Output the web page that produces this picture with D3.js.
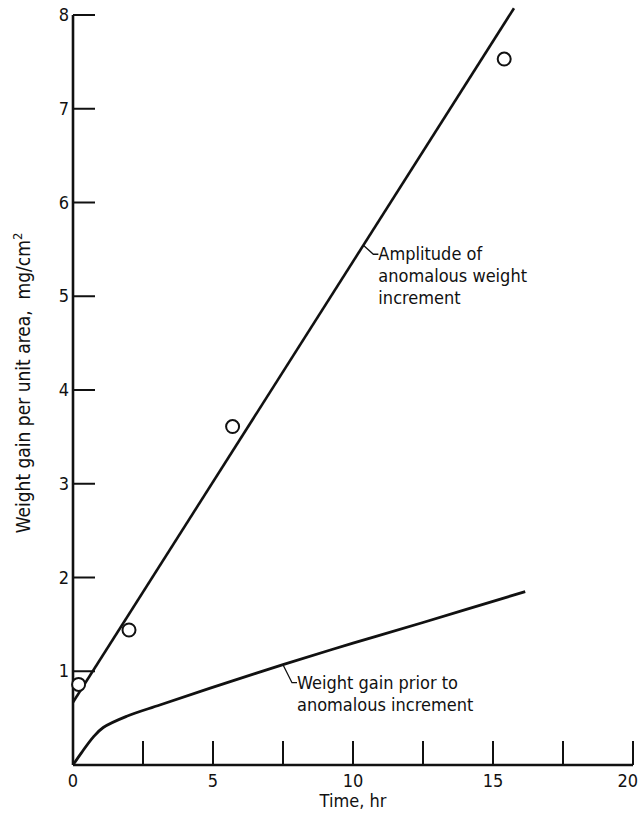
<!DOCTYPE html>
<html>
<head>
<meta charset="utf-8">
<script src="https://cdn.jsdelivr.net/npm/d3@7"></script>
<style>
  body { margin: 0; background: #fff; }
  svg text { font-family: "Liberation Sans Narrow", "DejaVu Sans Condensed", "Arial Narrow", sans-serif; fill: #111; }
</style>
</head>
<body>
<div id="chart"></div>
<script>
// measured points (open circles)
var pointTime = [0.2, 2.0, 5.7, 15.4];
var pointGain = [0.86, 1.44, 3.61, 7.53];

// straight fit: amplitude of anomalous weight increment
var fitTime = [0, 15.75];
var fitGain = [0.67, 0.67 + 0.47 * 15.75];

// weight gain prior to anomalous increment
var priorTime = [0, 0.3, 0.73, 1.08, 1.92, 3.1, 4.9, 7.5, 10, 12.5, 16.15];
var priorGain = [0, 0.13, 0.30, 0.40, 0.52, 0.64, 0.82, 1.07, 1.30, 1.52, 1.85];

var xTicks = [0, 2.5, 5, 7.5, 10, 12.5, 15, 17.5, 20];
var xLabels = [0, 5, 10, 15, 20];
var yTicks = [0, 1, 2, 3, 4, 5, 6, 7, 8];
var yLabels = [1, 2, 3, 4, 5, 6, 7, 8];

var width = 639, height = 816;
var svg = d3.select("#chart").append("svg")
    .attr("width", width)
    .attr("height", height);

var x = d3.scaleLinear().domain([0, 20]).range([73, 633]);
var y = d3.scaleLinear().domain([0, 8]).range([765, 15]);

var axisW = 2.6;

// y axis line + ticks pointing inward
svg.append("line")
    .attr("x1", x(0)).attr("x2", x(0))
    .attr("y1", y(8)).attr("y2", y(0))
    .attr("stroke", "#111").attr("stroke-width", axisW);
svg.selectAll(".ytick").data(yTicks.slice(1)).enter().append("line")
    .attr("class", "ytick")
    .attr("x1", x(0)).attr("x2", x(0) + 22)
    .attr("y1", function(d){ return y(d); })
    .attr("y2", function(d){ return y(d); })
    .attr("stroke", "#111").attr("stroke-width", 2);
svg.selectAll(".ylab").data(yLabels).enter().append("text")
    .attr("class", "ylab")
    .attr("x", x(0) - 4)
    .attr("y", function(d){ return y(d) + 6; })
    .attr("text-anchor", "end")
    .style("font-size", "18px")
    .text(function(d){ return d; });

// x axis line + ticks pointing up
svg.append("line")
    .attr("x1", x(0)).attr("x2", x(20))
    .attr("y1", y(0)).attr("y2", y(0))
    .attr("stroke", "#111").attr("stroke-width", axisW);
svg.selectAll(".xtick").data(xTicks.slice(1)).enter().append("line")
    .attr("class", "xtick")
    .attr("x1", function(d){ return x(d); })
    .attr("x2", function(d){ return x(d); })
    .attr("y1", y(0)).attr("y2", y(0) - 24)
    .attr("stroke", "#111").attr("stroke-width", 2);
svg.selectAll(".xlab").data(xLabels).enter().append("text")
    .attr("class", "xlab")
    .attr("x", function(d){ return d === 20 ? width - 1 : x(d); })
    .attr("y", y(0) + 22)
    .attr("text-anchor", function(d){ return d === 20 ? "end" : "middle"; })
    .style("font-size", "18px")
    .text(function(d){ return d; });

svg.append("text")
    .attr("x", x(10)).attr("y", 807)
    .attr("text-anchor", "middle")
    .style("font-size", "18px")
    .text("Time, hr");

svg.append("text")
    .attr("transform", "translate(30,383) rotate(-90)")
    .attr("text-anchor", "middle")
    .style("font-size", "19px")
    .html("Weight gain per unit area,&#160;&#160;mg/cm<tspan dy='-8' font-size='13px'>2</tspan>");

// lines
var line = d3.line()
    .x(function(d){ return x(d[0]); })
    .y(function(d){ return y(d[1]); });

svg.append("path")
    .datum(d3.zip(fitTime, fitGain))
    .attr("d", line)
    .attr("fill", "none").attr("stroke", "#111").attr("stroke-width", 2.6);

svg.append("path")
    .datum(d3.zip(priorTime, priorGain))
    .attr("d", line.curve(d3.curveCatmullRom.alpha(0.5)))
    .attr("fill", "none").attr("stroke", "#111").attr("stroke-width", 2.8);

svg.selectAll(".pt").data(d3.zip(pointTime, pointGain)).enter().append("circle")
    .attr("class", "pt")
    .attr("cx", function(d){ return x(d[0]); })
    .attr("cy", function(d){ return y(d[1]); })
    .attr("r", 6.5)
    .attr("fill", "#fff").attr("stroke", "#111").attr("stroke-width", 2);

// annotations with leader lines
function annotate(t, g, dx, dy, lines) {
  var px = x(t), py = y(g);
  svg.append("path")
    .attr("d", "M" + px + "," + py + "L" + (px + dx) + "," + (py + dy) + "h5")
    .attr("fill", "none").attr("stroke", "#111").attr("stroke-width", 1.3);
  var txt = svg.append("text")
    .attr("x", px + dx + 5)
    .attr("y", py + dy + 6)
    .style("font-size", "18px");
  lines.forEach(function(s, i){
    txt.append("tspan")
      .attr("x", px + dx + 5)
      .attr("dy", i === 0 ? 0 : 22)
      .text(s);
  });
}
var fitAt = 10.37;
annotate(fitAt, 0.67 + 0.47 * fitAt, 10, 9, ["Amplitude of", "anomalous weight", "increment"]);
annotate(7.5, 1.07, 9, 18, ["Weight gain prior to", "anomalous increment"]);
</script>
</body>
</html>
